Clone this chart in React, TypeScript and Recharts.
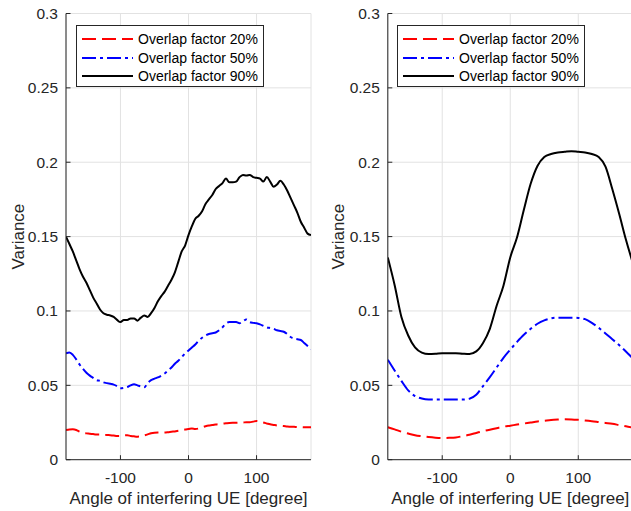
import React from 'react';
import { LineChart, Line, XAxis, YAxis, CartesianGrid, Legend } from 'recharts';

// angle of interfering UE [degree]
const leftAngles = [
  -180, -175, -170, -165, -160, -155, -150, -145, -140, -135,
  -130, -125, -120, -115, -110, -105, -100, -95, -90, -85,
  -80, -75, -70, -65, -60, -55, -50, -45, -40, -35,
  -30, -25, -20, -15, -10, -5, 0, 5, 10, 15,
  20, 25, 30, 35, 40, 45, 50, 55, 60, 65,
  70, 75, 80, 85, 90, 95, 100, 105, 110, 115,
  120, 125, 130, 135, 140, 145, 150, 155, 160, 165,
  170, 175, 180,
];

const leftOf20 = [
  0.02, 0.0203, 0.0204, 0.02, 0.0188, 0.018, 0.0177, 0.0175, 0.0172, 0.017,
  0.017, 0.0168, 0.0166, 0.0165, 0.0163, 0.016, 0.016, 0.0163, 0.0164, 0.016,
  0.0157, 0.0155, 0.0157, 0.0163, 0.017, 0.0178, 0.0182, 0.0183, 0.0183, 0.0183,
  0.0185, 0.0188, 0.019, 0.0194, 0.0198, 0.0203, 0.0206, 0.021, 0.0207, 0.021,
  0.0218, 0.0225, 0.023, 0.0233, 0.0237, 0.024, 0.0243, 0.0245, 0.0247, 0.0248,
  0.0248, 0.0249, 0.025, 0.0252, 0.0252, 0.0256, 0.026, 0.0257, 0.025, 0.0244,
  0.0238, 0.0234, 0.023, 0.0228, 0.0226, 0.0223, 0.0222, 0.0221, 0.022, 0.0219,
  0.0218, 0.0218, 0.0218,
];

const leftOf50 = [
  0.0715, 0.072, 0.0705, 0.0675, 0.064, 0.061, 0.0585, 0.0565, 0.055, 0.0535,
  0.053, 0.052, 0.0515, 0.051, 0.0505, 0.0495, 0.048, 0.0483, 0.0488, 0.05,
  0.0507, 0.05, 0.0493, 0.0487, 0.0515, 0.0535, 0.0545, 0.0553, 0.0565, 0.058,
  0.06, 0.062, 0.0645, 0.0665, 0.069, 0.0715, 0.0735, 0.0755, 0.0775, 0.08,
  0.082, 0.0835, 0.0845, 0.085, 0.0855, 0.087, 0.089, 0.0915, 0.0925, 0.0925,
  0.0925, 0.0918, 0.093, 0.0943, 0.0925, 0.092, 0.0917, 0.091, 0.09, 0.089,
  0.0885, 0.088, 0.087, 0.0865, 0.086, 0.0845, 0.0825, 0.0815, 0.081, 0.0805,
  0.0785, 0.0765, 0.0745,
];

const leftOf90 = [
  0.15, 0.145, 0.14, 0.134, 0.128, 0.123, 0.119, 0.114, 0.109, 0.105,
  0.101, 0.0985, 0.0975, 0.097, 0.096, 0.094, 0.0925, 0.094, 0.094, 0.095,
  0.095, 0.0935, 0.0955, 0.097, 0.096, 0.0985, 0.102, 0.1065, 0.11, 0.113,
  0.117, 0.121, 0.126, 0.133, 0.14, 0.144, 0.151, 0.157, 0.162, 0.164,
  0.167, 0.172, 0.175, 0.178, 0.182, 0.184, 0.186, 0.189, 0.1865, 0.1865,
  0.187, 0.19, 0.1915, 0.191, 0.1915, 0.19, 0.1895, 0.189, 0.187, 0.19,
  0.187, 0.1835, 0.185, 0.1875, 0.185, 0.181, 0.176, 0.171, 0.166, 0.16,
  0.156, 0.152, 0.151,
];

const rightAngles = [
  -180, -170, -160, -150, -140, -130, -120, -110, -100, -90,
  -80, -70, -60, -50, -40, -30, -20, -10, 0, 10,
  20, 30, 40, 50, 60, 70, 80, 90, 100, 110,
  120, 130, 140, 150, 160, 170, 180,
];

const rightOf20 = [
  0.0218, 0.0204, 0.0188, 0.0176, 0.0165, 0.0158, 0.0152, 0.0148, 0.0146, 0.0147,
  0.015, 0.0158, 0.0168, 0.018, 0.0192, 0.0202, 0.0212, 0.0222, 0.0229, 0.0236,
  0.0243, 0.025, 0.0257, 0.0262, 0.0267, 0.027, 0.0272, 0.0271, 0.0268, 0.0264,
  0.0259, 0.0253, 0.0247, 0.0241, 0.0233, 0.0225, 0.0216,
];

const rightOf50 = [
  0.0672, 0.06, 0.053, 0.0466, 0.0428, 0.0411, 0.0405, 0.0405, 0.0405, 0.0405,
  0.0405, 0.0405, 0.041, 0.0436, 0.0495, 0.0555, 0.062, 0.0685, 0.074, 0.0792,
  0.084, 0.088, 0.0914, 0.0937, 0.095, 0.0955, 0.0955, 0.0955, 0.0953, 0.0945,
  0.092, 0.0887, 0.0849, 0.081, 0.0771, 0.0728, 0.0682,
];

const rightOf90 = [
  0.136, 0.1175, 0.096, 0.0835, 0.0755, 0.072, 0.071, 0.0712, 0.0716, 0.0716,
  0.0716, 0.0713, 0.0711, 0.0728, 0.0785, 0.088, 0.1035, 0.117, 0.136, 0.1495,
  0.168, 0.1855, 0.1975, 0.2035, 0.2055, 0.2065, 0.207, 0.2074, 0.207, 0.2066,
  0.2055, 0.2035, 0.197, 0.182, 0.1655, 0.148, 0.1325,
];

const xTicks = [-100, 0, 100];
const yTicks = [0, 0.05, 0.1, 0.15, 0.2, 0.25, 0.3];

const series = [
  { key: 'of20', name: 'Overlap factor 20%', color: '#ff0000', dash: '14 6' },
  { key: 'of50', name: 'Overlap factor 50%', color: '#0000ff', dash: '14 4 3 4' },
  { key: 'of90', name: 'Overlap factor 90%', color: '#000000', dash: undefined },
];

const buildRows = (angles: number[], a: number[], b: number[], c: number[]) =>
  angles.map((angle, i) => ({ angle, of20: a[i], of50: b[i], of90: c[i] }));

const leftRows = buildRows(leftAngles, leftOf20, leftOf50, leftOf90);
const rightRows = buildRows(rightAngles, rightOf20, rightOf50, rightOf90);

const FONT = '"Liberation Sans", Arial, Helvetica, sans-serif';
const AXIS = '#262626';
const TICK = 4.5;

const LegendBox = () => (
  <div
    style={{
      width: 188,
      height: 62,
      boxSizing: 'border-box',
      border: `1px solid ${AXIS}`,
      background: '#fff',
      fontFamily: FONT,
      fontSize: 14,
      color: '#000',
      paddingTop: 4,
    }}
  >
    {series.map((s) => (
      <div key={s.key} style={{ display: 'flex', alignItems: 'center', height: 18.5 }}>
        <svg width={51} height={6} style={{ marginLeft: 5, marginRight: 5 }}>
          <line x1={0} y1={3} x2={51} y2={3} stroke={s.color} strokeWidth={2} strokeDasharray={s.dash} />
        </svg>
        <span style={{ whiteSpace: 'nowrap' }}>{s.name}</span>
      </div>
    ))}
  </div>
);

interface PanelProps {
  rows: { angle: number; of20: number; of50: number; of90: number }[];
  yAxisWidth: number;
  marginRight: number;
  legendLeft: number;
}

const Panel = ({ rows, yAxisWidth, marginRight, legendLeft }: PanelProps) => (
  <LineChart
    width={320}
    height={511}
    data={rows}
    margin={{ top: 13.5, right: marginRight, bottom: 0, left: 0 }}
  >
    <CartesianGrid stroke="#e2e2e2" strokeWidth={1} />
    <XAxis
      dataKey="angle"
      type="number"
      domain={[-180, 180]}
      ticks={xTicks}
      allowDataOverflow
      height={51.3}
      stroke={AXIS}
      tickSize={-TICK}
      tickMargin={16.5}
      tick={{ fill: AXIS, fontSize: 15.5, fontFamily: FONT }}
      label={{
        value: 'Angle of interfering UE [degree]',
        position: 'center',
        dy: 12.5,
        fill: AXIS,
        fontSize: 17,
        fontFamily: FONT,
      }}
    />
    <XAxis
      xAxisId="top"
      dataKey="angle"
      type="number"
      orientation="top"
      domain={[-180, 180]}
      ticks={xTicks}
      height={0}
      stroke={AXIS}
      tickSize={-TICK}
      tick={false}
    />
    <YAxis
      type="number"
      domain={[0, 0.3]}
      ticks={yTicks}
      allowDataOverflow
      width={yAxisWidth}
      stroke={AXIS}
      tickSize={-TICK}
      tickMargin={12.5}
      tick={{ fill: AXIS, fontSize: 15.5, fontFamily: FONT }}
      label={{
        value: 'Variance',
        angle: -90,
        position: 'center',
        dx: -(yAxisWidth / 2 - 17.5),
        fill: AXIS,
        fontSize: 17,
        fontFamily: FONT,
      }}
    />
    <YAxis
      yAxisId="right"
      orientation="right"
      type="number"
      domain={[0, 0.3]}
      ticks={yTicks}
      width={0}
      stroke={AXIS}
      tickSize={-TICK}
      tick={false}
    />
    {series.map((s) => (
      <Line
        key={s.key}
        dataKey={s.key}
        name={s.name}
        type="monotone"
        stroke={s.color}
        strokeWidth={2}
        strokeDasharray={s.dash}
        dot={false}
        activeDot={false}
        isAnimationActive={false}
      />
    ))}
    <Legend
      layout="vertical"
      align="center"
      verticalAlign="middle"
      wrapperStyle={{ top: 25, left: legendLeft, width: 188, height: 62 }}
      content={() => <LegendBox />}
    />
  </LineChart>
);

export default function App() {
  return (
    <div
      style={{
        position: 'absolute',
        left: 0,
        top: 0,
        width: 631,
        height: 511,
        overflow: 'hidden',
        background: '#fff',
      }}
    >
      <div style={{ position: 'absolute', left: 0, top: 0 }}>
        <Panel rows={leftRows} yAxisWidth={66} marginRight={9} legendLeft={76} />
      </div>
      <div style={{ position: 'absolute', left: 320, top: 0 }}>
        <Panel rows={rightRows} yAxisWidth={67.8} marginRight={7.3} legendLeft={77} />
      </div>
    </div>
  );
}
